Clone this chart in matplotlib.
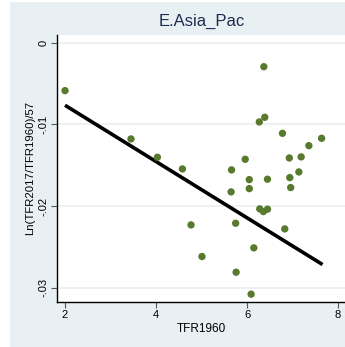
import matplotlib
matplotlib.use("Agg")
import matplotlib.pyplot as plt
import numpy as np

# TFR1960 vs annualised log change of TFR (East Asia & Pacific)
tfr1960 = [2.00, 3.45, 4.03, 4.58, 4.77, 5.01, 5.66, 5.65, 5.75, 5.76,
           5.96, 6.05, 6.05, 6.09, 6.15, 6.27, 6.28, 6.36, 6.37, 6.39,
           6.45, 6.45, 6.78, 6.83, 6.93, 6.94, 6.96, 7.14, 7.19, 7.36, 7.64]
growth = [-0.00587, -0.01178, -0.01402, -0.01545, -0.02230, -0.02617, -0.01557,
          -0.01826, -0.02210, -0.02809, -0.01427, -0.01676, -0.01786, -0.03078,
          -0.02511, -0.00970, -0.02034, -0.02067, -0.00294, -0.00913, -0.02038,
          -0.01671, -0.01109, -0.02279, -0.01411, -0.01651, -0.01773, -0.01582,
          -0.01398, -0.01260, -0.01170]
# fitted line as drawn in the source chart
fit_x = [2.00, 7.66]
fit_y = [-0.00766, -0.02715]
xticks = [2, 4, 6, 8]
yticks = [0, -0.01, -0.02, -0.03]
yticklabels = ["0", "-.01", "-.02", "-.03"]

bg = "#e9f0f3"
plt.rcParams['font.family'] = ['Liberation Sans', 'DejaVu Sans']

fig = plt.figure(figsize=(3.45, 3.47), dpi=100, facecolor="white")
# graph region
fig.patches.append(plt.Rectangle((10/345, 0), 1, 345/347, transform=fig.transFigure,
                                 facecolor=bg, edgecolor="none", zorder=-10))

ax = fig.add_axes([57.3/345, 1 - 301.7/347, 1 - 57.3/345, (301.7 - 35)/347])
ax.set_facecolor("white")

ax.scatter(tfr1960, growth, s=28, color="#587a2e", edgecolors="none", zorder=3)
ax.plot(fit_x, fit_y, color="black", lw=2.6, solid_capstyle="butt", zorder=2)

ax.set_xlim(1.83, 2 + (345 - 65) / 45.5)
ax.set_ylim(-0.0317, 0.00094)
ax.set_xticks(xticks)
ax.set_xticklabels([str(t) for t in xticks], fontsize=8)
ax.set_yticks(yticks)
ax.set_yticklabels(yticklabels, fontsize=8, rotation=90, va="center")
ax.yaxis.grid(True, color=bg, lw=1.3)
ax.set_axisbelow(True)
ax.tick_params(length=4, width=0.8, color="#555555", pad=2)

for s in ["top", "right"]:
    ax.spines[s].set_visible(False)
ax.spines["left"].set_linewidth(1.0)
ax.spines["bottom"].set_linewidth(1.0)

ax.set_xlabel("TFR1960", fontsize=8.5, labelpad=2)
ax.set_ylabel("Ln(TFR2017/TFR1960)/57", fontsize=8.2, labelpad=3)

fig.text(201.7/345, 1 - 21.7/347, "E.Asia_Pac", ha="center", va="center",
         fontsize=12, color="#1c2b4f")

fig.savefig("out.png", dpi=100, facecolor="white")
